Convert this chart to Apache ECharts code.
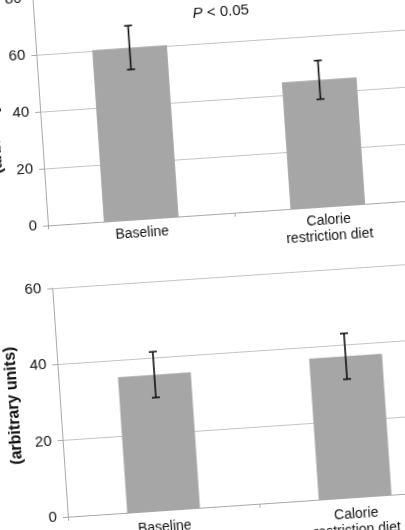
<!DOCTYPE html>
<html>
<head>
<meta charset="utf-8">
<script src="https://cdn.jsdelivr.net/npm/echarts@6/dist/echarts.min.js"></script>
<style>
html, body { margin:0; padding:0; width:405px; height:530px; overflow:hidden; background:#fff; }
#chart { position:absolute; left:-50px; top:-50px; width:505px; height:630px; transform:rotate(-3.9deg); transform-origin:50% 50%; }
</style>
</head>
<body>
<div id="chart"></div>
<script>
// ---- data ----
const categories = ['Baseline', 'Calorie\nrestriction diet'];
const topMeans = [60.3, 44.5];
const topErrors = [7.7, 6.8];
const bottomMeans = [35.6, 37.0];
const bottomErrors = [6.0, 6.0];
const topAxisMax = 80;
const bottomAxisMax = 60;
const axisStep = 20;
const yAxisTitle = '(arbitrary units)';
const annotation = 'P < 0.05';

const FONT = '"Liberation Sans", Arial, sans-serif';

function errData(means, errs) {
  return means.map((m, i) => [i, m - errs[i], m + errs[i]]);
}

function renderErr(params, api) {
  const lo = api.coord([api.value(0), api.value(1)]);
  const hi = api.coord([api.value(0), api.value(2)]);
  const cap = 4;
  const st = { stroke: '#111', lineWidth: 1.6 };
  return {
    type: 'group',
    children: [
      { type: 'line', shape: { x1: hi[0], y1: hi[1], x2: lo[0], y2: lo[1] }, style: st },
      { type: 'line', shape: { x1: hi[0] - cap, y1: hi[1], x2: hi[0] + cap, y2: hi[1] }, style: st },
      { type: 'line', shape: { x1: lo[0] - cap, y1: lo[1], x2: lo[0] + cap, y2: lo[1] }, style: st }
    ]
  };
}

function xAxisCfg(gi, margin) {
  return {
    type: 'category', gridIndex: gi, data: categories,
    axisLine: { lineStyle: { color: '#a8a8a8', width: 1 } },
    axisTick: { show: true, length: 4, lineStyle: { color: '#a8a8a8' } },
    axisLabel: { color: '#111', fontSize: 14, fontFamily: FONT, margin: margin, lineHeight: 16 }
  };
}
function yAxisCfg(gi, max) {
  return {
    type: 'value', gridIndex: gi, min: 0, max: max, interval: axisStep,
    name: yAxisTitle, nameLocation: 'middle', nameRotate: 90, nameGap: 35,
    nameTextStyle: { color: '#111', fontSize: 16, fontWeight: 'bold', fontFamily: FONT },
    axisLine: { show: true, lineStyle: { color: '#a8a8a8', width: 1 } },
    axisTick: { show: true, length: 5, lineStyle: { color: '#a8a8a8' } },
    axisLabel: { color: '#111', fontSize: 15, fontFamily: FONT, margin: 11 },
    splitLine: { lineStyle: { color: '#c4c4c4', width: 1 } }
  };
}

const chart = echarts.init(document.getElementById('chart'), null, { renderer: 'canvas' });
chart.setOption({
  animation: false,
  backgroundColor: '#fff',
  grid: [
    { left: 101, top: 37, width: 374, height: 228 },
    { left: 101, top: 328, width: 384, height: 229 }
  ],
  xAxis: [xAxisCfg(0, 6), xAxisCfg(1, 9)],
  yAxis: [yAxisCfg(0, topAxisMax), yAxisCfg(1, bottomAxisMax)],
  graphic: [{
    type: 'text', x: 288, y: 64,
    style: {
      text: '{i|P}' + annotation.slice(1),
      textAlign: 'center', textVerticalAlign: 'middle',
      fontSize: 15, fontFamily: FONT, fill: '#111',
      rich: { i: { fontStyle: 'italic', fontSize: 15, fontFamily: FONT, color: '#111' } }
    }
  }],
  series: [
    { type: 'bar', xAxisIndex: 0, yAxisIndex: 0, data: topMeans, barWidth: '40%',
      itemStyle: { color: '#a6a6a6' } },
    { type: 'custom', xAxisIndex: 0, yAxisIndex: 0, data: errData(topMeans, topErrors),
      renderItem: renderErr, z: 10 },
    { type: 'bar', xAxisIndex: 1, yAxisIndex: 1, data: bottomMeans, barWidth: '38%',
      itemStyle: { color: '#a6a6a6' } },
    { type: 'custom', xAxisIndex: 1, yAxisIndex: 1, data: errData(bottomMeans, bottomErrors),
      renderItem: renderErr, z: 10 }
  ]
});
</script>
</body>
</html>
